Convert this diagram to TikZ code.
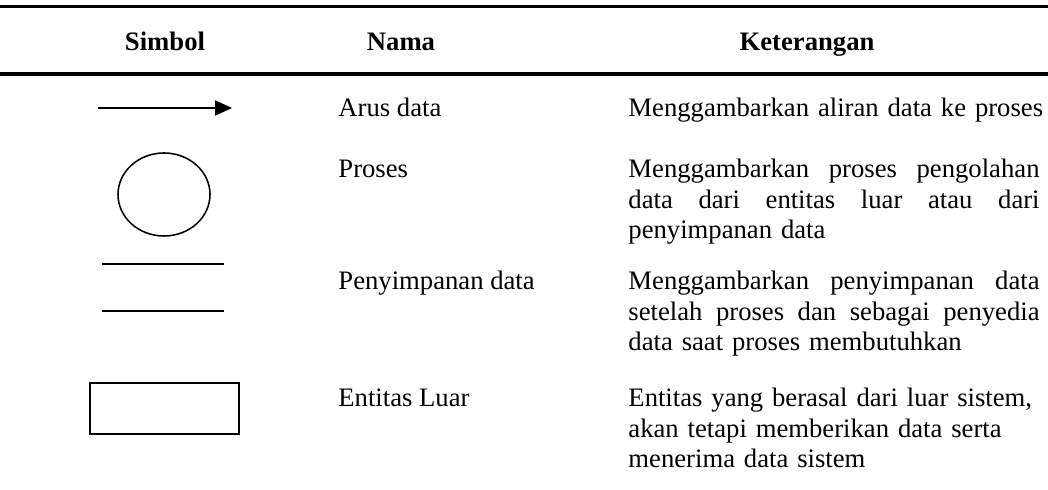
\documentclass[tikz,border=0pt]{standalone}
\usepackage{fontspec}
\setmainfont{Liberation Serif}
\usetikzlibrary{arrows.meta}
\newcommand{\jline}[1]{\makebox[185pt][s]{#1}}
\begin{document}
\begin{tikzpicture}[x=0.45pt,y=-0.45pt,>={Triangle[length=7.6pt,width=6.8pt]},font=\fontsize{12}{13.7}\selectfont,
		judul/.style={font=\fontsize{12}{13.7}\selectfont\bfseries,anchor=base,inner sep=0pt},
		nama/.style={anchor=base west,inner sep=0pt},
		ket/.style={anchor=base west,inner sep=0pt,text width=200pt,align=left}]
			\useasboundingbox (0,0) rectangle (1048,490);
			% garis tabel
			\draw[line width=1.6pt] (0,6.5)--(1048,6.5);
			\draw[line width=1.8pt] (0,74)--(1048,74);
			% judul kolom
			\node[judul] (hsimbol) at (165,51) {Simbol};
			\node[judul] (hnama) at (401,51) {Nama};
			\node[judul] (hket) at (807,51) {Keterangan};
			% simbol
			\coordinate (arusA) at (98,108);
			\coordinate (arusB) at (232,108);
			\draw[->,line width=0.75pt] (arusA)--(arusB);
			\draw[line width=0.7pt] (164,194.5) ellipse [x radius=46,y radius=41.5];
			\draw[line width=0.7pt] (102,264)--(224,264) (102,311)--(224,311);
			\draw[line width=0.9pt] (90,383) rectangle (239,434);
			% nama
			\node[nama] (n1) at (338,117) {Arus data};
			\node[nama] (n2) at (338,178) {Proses};
			\node[nama] (n3) at (338,290) {Penyimpanan data};
			\node[nama] (n4) at (338,407) {Entitas Luar};
			% keterangan
			\node[ket] (k1) at (628,117) {Menggambarkan aliran data ke proses};
			\node[ket] (k2) at (628,178) {\jline{Menggambarkan\hfill proses\hfill pengolahan}\\
				\jline{data\hfill dari\hfill entitas\hfill luar\hfill atau\hfill dari}\\
				penyimpanan data};
			\node[ket] (k3) at (628,290) {\jline{Menggambarkan\hfill penyimpanan\hfill data}\\
				\jline{setelah\hfill proses\hfill dan\hfill sebagai\hfill penyedia}\\
				data saat proses membutuhkan};
			\node[ket] (k4) at (628,407) {Entitas yang berasal dari luar sistem,\\akan tetapi memberikan data serta\\menerima data sistem};
	\end{tikzpicture}
\end{document}
